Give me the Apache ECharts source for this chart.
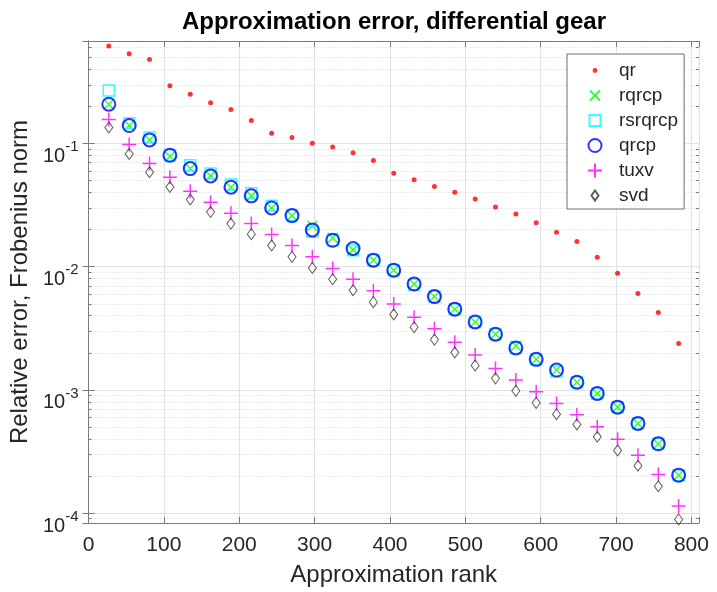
<!DOCTYPE html>
<html>
<head>
<meta charset="utf-8">
<script src="https://cdn.jsdelivr.net/npm/echarts@6/dist/echarts.min.js"></script>
<style>
  html, body { margin: 0; padding: 0; background: #fff; }
  #chart { width: 717px; height: 592px; }
</style>
</head>
<body>
<div id="chart"></div>
<script>
// ---- data ----
const ranks = [27, 54, 81, 108, 135, 162, 189, 216, 243, 270, 297, 324, 351, 378, 405,
               432, 459, 486, 513, 540, 567, 594, 621, 648, 675, 702, 729, 756, 783];

const qr = [0.62, 0.537, 0.481, 0.294, 0.251, 0.214, 0.189, 0.154, 0.121, 0.112,
            0.1005, 0.0938, 0.084, 0.0728, 0.0574, 0.0507, 0.0448, 0.0402, 0.0355, 0.0306,
            0.0268, 0.0227, 0.0190, 0.0160, 0.01194, 0.00885, 0.00605, 0.00425, 0.00238];

const rqrcp = [0.2085, 0.140, 0.107, 0.0785, 0.0626, 0.0546, 0.0442, 0.0376, 0.0300, 0.0260,
               0.0215, 0.0172, 0.0137, 0.0113, 0.00937, 0.00724, 0.00572, 0.00452, 0.00356, 0.00283,
               0.00228, 0.00177, 0.00145, 0.001154, 0.000935, 0.000724, 0.000534, 0.000365, 0.000203];

const rsrqrcp = [0.269, 0.146, 0.112, 0.0803, 0.0665, 0.057, 0.0465, 0.0395, 0.0313, 0.0262,
                 0.0192, 0.0164, 0.0136, 0.0113, 0.00937, 0.00715, 0.00572, 0.00452, 0.00356, 0.00283,
                 0.00219, 0.00177, 0.00141, 0.001154, 0.000935, 0.000724, 0.000534, 0.000365, 0.000203];

const qrcp = [0.2085, 0.140, 0.107, 0.0803, 0.0626, 0.0546, 0.0442, 0.0376, 0.0300, 0.0260,
              0.0199, 0.0164, 0.01406, 0.0113, 0.00937, 0.00724, 0.00572, 0.00452, 0.00356, 0.00283,
              0.00219, 0.00177, 0.00145, 0.001154, 0.000935, 0.000724, 0.000534, 0.000365, 0.000203];

const tuxv = [0.157, 0.0982, 0.0689, 0.0532, 0.0410, 0.0334, 0.0272, 0.0224, 0.01824, 0.01486,
              0.01202, 0.00967, 0.00792, 0.00637, 0.00497, 0.00389, 0.00313, 0.00244, 0.00192, 0.00149,
              0.00120, 0.000964, 0.000776, 0.000627, 0.000501, 0.000398, 0.000294, 0.000206, 0.000114];

const svd = [0.135, 0.0824, 0.0585, 0.0444, 0.0351, 0.0279, 0.0224, 0.01836, 0.01486, 0.01202,
             0.00978, 0.00792, 0.00644, 0.00515, 0.00409, 0.00323, 0.00256, 0.00201, 0.00158, 0.00124,
             0.000982, 0.000785, 0.000635, 0.000524, 0.000416, 0.000322, 0.000242, 0.000165, 0.0000887];

const seriesNames = ['qr', 'rqrcp', 'rsrqrcp', 'qrcp', 'tuxv', 'svd'];
const xTicks = [0, 100, 200, 300, 400, 500, 600, 700, 800];

// ---- chart ----
const X_MIN = 0, X_MAX = 810;
const Y_MIN = 8.3e-5, Y_MAX = 0.68;
const FONT = '"Liberation Sans", Arial, Helvetica, sans-serif';
const TXT = '#262626';
const AX = '#7a7a7a';
const GRID_MAJOR = '#e2e2e2';
const GRID_MINOR = '#d6d6d6';

const chart = echarts.init(document.getElementById('chart'), null, { renderer: 'canvas' });

function pairs(ys) { return ranks.map((x, i) => [x, ys[i]]); }

// hidden log axes shifted by a factor draw the dotted minor grid at 2..9 x 10^k
const yAxes = [
  {
    type: 'log', logBase: 10, min: Y_MIN, max: Y_MAX, position: 'left',
    axisLine: { show: true, lineStyle: { color: AX, width: 1 } },
    axisTick: { show: true, inside: true, length: 6, lineStyle: { color: AX } },
    splitLine: { show: true, lineStyle: { color: GRID_MAJOR, width: 1 } },
    axisLabel: {
      margin: 10, color: TXT, fontFamily: FONT, padding: [26, 0, 0, 0],
      formatter: function (v) {
        const e = Math.log10(v); const r = Math.round(e);
        if (Math.abs(e - r) > 1e-6) return '';
        return '{b|10}{s|' + r + '}';
      },
      rich: {
        b: { fontSize: 20, fontFamily: FONT, color: TXT, verticalAlign: 'bottom', lineHeight: 20 },
        s: { fontSize: 15, fontFamily: FONT, color: TXT, verticalAlign: 'bottom', lineHeight: 15, padding: [0, 0, 12, 0] }
      }
    },
    name: 'Relative error, Frobenius norm', nameLocation: 'middle', nameGap: 48,
    nameTextStyle: { fontSize: 24, fontFamily: FONT, color: TXT }
  },
  {
    type: 'log', logBase: 10, min: Y_MIN, max: Y_MAX, position: 'right',
    axisLine: { show: true, lineStyle: { color: AX, width: 1 } },
    axisTick: { show: true, inside: true, length: 6, lineStyle: { color: AX } },
    splitLine: { show: false }, axisLabel: { show: false }
  }
];
for (let f = 2; f <= 9; f++) {
  ['left', 'right'].forEach(function (pos) {
    yAxes.push({
      type: 'log', logBase: 10, min: Y_MIN / f, max: Y_MAX / f, position: pos,
      axisLine: { show: false },
      axisTick: { show: true, inside: true, length: 3, lineStyle: { color: AX } },
      splitLine: { show: pos === 'left', lineStyle: { color: GRID_MINOR, width: 1, type: [1, 2] } },
      axisLabel: { show: false }
    });
  });
}

const option = {
  animation: false,
  backgroundColor: '#ffffff',
  title: {
    text: 'Approximation error, differential gear',
    left: 389, textAlign: 'center', top: 5,
    textStyle: { fontSize: 24, fontWeight: 'bold', fontFamily: FONT, color: '#000' }
  },
  grid: { left: 88, right: 18, top: 41, bottom: 69, containLabel: false },
  legend: {
    orient: 'vertical', left: 567, top: 54,
    data: [
      { name: 'qr', icon: 'path://M0,0M14,14M7,4.6A2.4,2.4,0,1,1,7,9.4A2.4,2.4,0,1,1,7,4.6Z' },
      { name: 'rqrcp', icon: 'path://M0,0M14,14M2,2L12,12M2,12L12,2' },
      { name: 'rsrqrcp', icon: 'path://M0,0M14,14M1.5,1.5L12.5,1.5L12.5,12.5L1.5,12.5Z' },
      { name: 'qrcp', icon: 'path://M0,0M14,14M7,0.5A6.5,6.5,0,1,1,7,13.5A6.5,6.5,0,1,1,7,0.5Z' },
      { name: 'tuxv', icon: 'path://M0,7L14,7M7,0L7,14' },
      { name: 'svd', icon: 'path://M0,0M14,14M7,2L10.5,7L7,12L3.5,7Z' }
    ],
    itemWidth: 38, itemHeight: 14, itemGap: 6,
    padding: [7, 6, 4, 20],
    borderColor: '#6e6e6e', borderWidth: 1, backgroundColor: '#fff',
    textStyle: { fontSize: 19, fontFamily: FONT, color: TXT, lineHeight: 19 },
    selectedMode: false
  },
  xAxis: [
    {
      type: 'value', min: X_MIN, max: X_MAX, interval: 100, position: 'bottom',
      axisLine: { show: true, onZero: false, lineStyle: { color: AX, width: 1 } },
      axisTick: { show: true, inside: true, length: 6, lineStyle: { color: AX } },
      splitLine: { show: true, lineStyle: { color: GRID_MAJOR, width: 1 } },
      axisLabel: {
        fontSize: 21, fontFamily: FONT, color: TXT, margin: 12,
        formatter: function (v) { return xTicks.indexOf(v) >= 0 ? String(v) : ''; }
      },
      name: 'Approximation rank', nameLocation: 'middle', nameGap: 40,
      nameTextStyle: { fontSize: 24, fontFamily: FONT, color: TXT }
    },
    {
      type: 'value', min: X_MIN, max: X_MAX, interval: 100, position: 'top',
      axisLine: { show: true, onZero: false, lineStyle: { color: AX, width: 1 } },
      axisTick: { show: true, inside: true, length: 6, lineStyle: { color: AX } },
      splitLine: { show: false }, axisLabel: { show: false }
    }
  ],
  yAxis: yAxes,
  series: [
    {
      name: 'qr', type: 'scatter', data: pairs(qr), symbol: 'circle', symbolSize: 5,
      itemStyle: { color: '#ff0000', borderWidth: 0 }
    },
    {
      name: 'rqrcp', type: 'scatter', data: pairs(rqrcp),
      symbol: 'path://M0,0L10,10M0,10L10,0', symbolSize: 10,
      itemStyle: { color: 'rgba(0,0,0,0)', borderColor: '#00ff00', borderWidth: 1.5 }
    },
    {
      name: 'rsrqrcp', type: 'scatter', data: pairs(rsrqrcp), symbol: 'rect', symbolSize: 11,
      itemStyle: { color: 'rgba(0,0,0,0)', borderColor: '#00ffff', borderWidth: 1.5 }
    },
    {
      name: 'qrcp', type: 'scatter', data: pairs(qrcp), symbol: 'circle', symbolSize: 13,
      itemStyle: { color: 'rgba(0,0,0,0)', borderColor: '#0000ff', borderWidth: 2 }
    },
    {
      name: 'tuxv', type: 'scatter', data: pairs(tuxv),
      symbol: 'path://M0,5L10,5M5,0L5,10', symbolSize: 14,
      itemStyle: { color: 'rgba(0,0,0,0)', borderColor: '#ff00ff', borderWidth: 1.5 }
    },
    {
      name: 'svd', type: 'scatter', data: pairs(svd), symbol: 'diamond', symbolSize: [8, 11],
      itemStyle: { color: 'rgba(0,0,0,0)', borderColor: '#333333', borderWidth: 1 }
    }
  ].map(function (s) {
    s.emphasis = { disabled: true };
    s.silent = true;
    return s;
  })
};

chart.setOption(option);
</script>
</body>
</html>
